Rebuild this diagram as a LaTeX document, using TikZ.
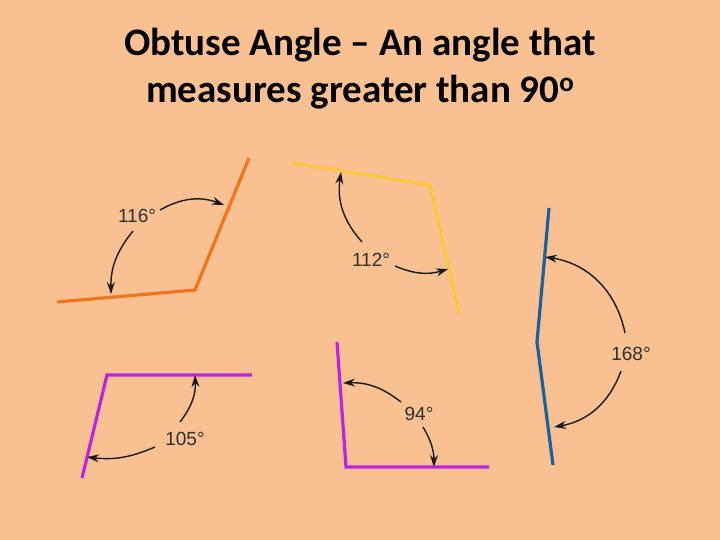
\documentclass[tikz,border=0pt]{standalone}
\usepackage{fontspec}
\setmainfont{Carlito}
\newfontfamily\lblfont{Liberation Sans}
\usetikzlibrary{arrows.meta}
\definecolor{peach}{RGB}{249,192,145}
\definecolor{orangeline}{RGB}{240,118,30}
\definecolor{yellowline}{RGB}{248,200,60}
\definecolor{blueline}{RGB}{24,98,158}
\definecolor{purpleline}{RGB}{188,36,228}
\definecolor{arctext}{RGB}{25,25,25}
\tikzset{
	arm/.style={line width=3.2pt},
	sweep/.style={-{Stealth[length=12pt,width=8pt]}, line width=1.4pt, arctext},
	deg/.style={font=\lblfont\fontsize{19}{19}\selectfont, text=arctext!90!white, inner sep=1pt}
}
\begin{document}
\begin{tikzpicture}[x=1pt, y=-1pt]
		\fill[peach] (0,0) rectangle (720,540);
		\useasboundingbox (0,0) rectangle (720,540);
		\node[font=\bfseries\fontsize{39}{47}\selectfont, align=center] (title) at (360,69)
		{Obtuse Angle -- An angle that\\measures greater than 90\raisebox{0.62ex}{\fontsize{27}{27}\selectfont o}};
		% 116
		\coordinate (A1) at (57,302);
		\coordinate (V1) at (195,290);
		\coordinate (B1) at (249,158);
		\draw[arm, orangeline] (A1) -- (V1) -- (B1);
		\node[deg] (d116) at (137,216) {116°};
		\coordinate (p1) at (160,210);
		\coordinate (q1) at (224,205);
		\coordinate (r1) at (133,231);
		\coordinate (s1) at (111,294);
		\draw[sweep] (p1) to[bend left=25] (q1);
		\draw[sweep] (r1) to[bend right=20] (s1);
		% 112
		\coordinate (A2) at (292,163);
		\coordinate (V2) at (430,185);
		\coordinate (B2) at (459,313);
		\draw[arm, yellowline] (A2) -- (V2) -- (B2);
		\node[deg] (d112) at (371,260) {112°};
		\coordinate (p2) at (362,242);
		\coordinate (q2) at (341,172);
		\coordinate (r2) at (395,266);
		\coordinate (s2) at (448,269);
		\draw[sweep] (p2) to[bend left=25] (q2);
		\draw[sweep] (r2) to[bend right=20] (s2);
		% 168
		\coordinate (A3) at (549,208);
		\coordinate (V3) at (537,342);
		\coordinate (B3) at (553,465);
		\draw[arm, blueline] (A3) -- (V3) -- (B3);
		\node[deg] (d168) at (631,354) {168°};
		\coordinate (p3) at (625,333);
		\coordinate (q3) at (545,257);
		\coordinate (r3) at (621,371);
		\coordinate (s3) at (554,427);
		\draw[sweep] (p3) to[bend right=35] (q3);
		\draw[sweep] (r3) to[bend left=30] (s3);
		% 105
		\coordinate (A4) at (252,375);
		\coordinate (V4) at (107,375);
		\coordinate (B4) at (82,478);
		\draw[arm, purpleline] (A4) -- (V4) -- (B4);
		\node[deg] (d105) at (185,439) {105°};
		\coordinate (p4) at (180,422);
		\coordinate (q4) at (195,375);
		\coordinate (r4) at (155,447);
		\coordinate (s4) at (87,457);
		\draw[sweep] (p4) to[bend right=20] (q4);
		\draw[sweep] (r4) to[bend left=15] (s4);
		% 94
		\coordinate (A5) at (337,342);
		\coordinate (V5) at (346,467);
		\coordinate (B5) at (489,467);
		\draw[arm, purpleline] (A5) -- (V5) -- (B5);
		\node[deg] (d94) at (419,414) {94°};
		\coordinate (p5) at (401,402);
		\coordinate (q5) at (343,383);
		\coordinate (r5) at (423,427);
		\coordinate (s5) at (434,467);
		\draw[sweep] (p5) to[bend right=20] (q5);
		\draw[sweep] (r5) to[bend left=15] (s5);
\end{tikzpicture}
\end{document}
